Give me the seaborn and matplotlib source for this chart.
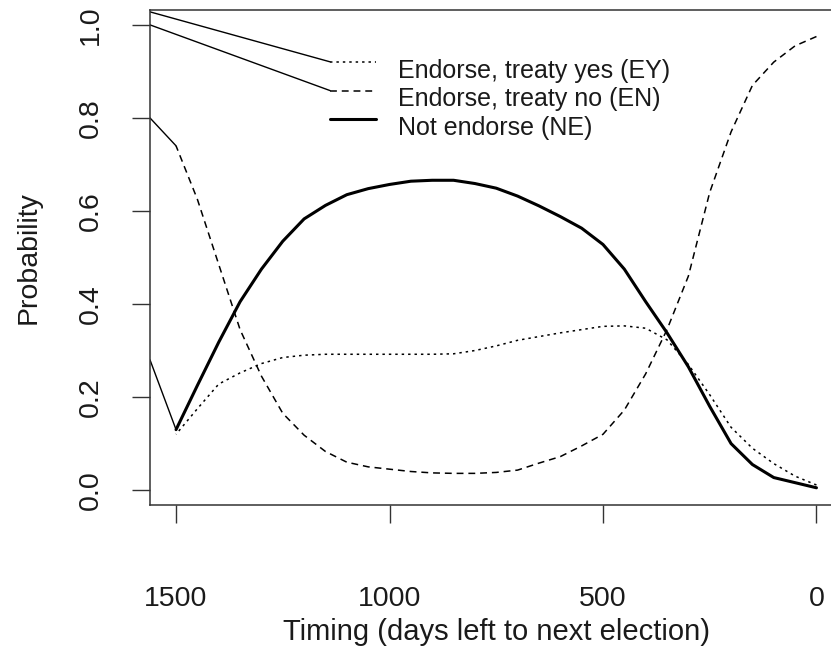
import matplotlib
matplotlib.use("Agg")
import matplotlib.pyplot as plt
import matplotlib.transforms as mtransforms
import seaborn as sns
import pandas as pd

# days left to next election, read every 50 days
days = [1500, 1450, 1400, 1350, 1300, 1250, 1200, 1150, 1100, 1050, 1000,
        950, 900, 850, 800, 750, 700, 650, 600, 550, 500,
        450, 400, 350, 300, 250, 200, 150, 100, 50, 0]

p_ey = [0.120, 0.175, 0.228, 0.252, 0.272, 0.285, 0.290, 0.292, 0.292, 0.292, 0.292,
        0.292, 0.292, 0.293, 0.300, 0.310, 0.322, 0.330, 0.338, 0.345, 0.352,
        0.353, 0.348, 0.323, 0.270, 0.205, 0.135, 0.090, 0.057, 0.030, 0.011]

p_en = [0.740, 0.625, 0.485, 0.345, 0.245, 0.165, 0.118, 0.083, 0.060, 0.050, 0.045,
        0.040, 0.037, 0.036, 0.036, 0.038, 0.043, 0.058, 0.072, 0.095, 0.120,
        0.172, 0.250, 0.345, 0.460, 0.640, 0.770, 0.870, 0.920, 0.955, 0.975]

p_ne = [0.130, 0.225, 0.318, 0.405, 0.475, 0.535, 0.583, 0.612, 0.635, 0.648, 0.657,
        0.664, 0.666, 0.666, 0.659, 0.649, 0.632, 0.611, 0.588, 0.563, 0.528,
        0.475, 0.405, 0.338, 0.265, 0.180, 0.100, 0.055, 0.027, 0.016, 0.005]

labels = ["Endorse, treaty yes (EY)", "Endorse, treaty no (EN)", "Not endorse (NE)"]

# thin stray segments coming in from the left edge of the box
lead_x = [1561, 1500]
lead_en = [0.80, 0.74]
lead_ne = [0.28, 0.13]
legend_lead_y = [1.028, 1.0]

df = pd.DataFrame({"days": days, "EY": p_ey, "EN": p_en, "NE": p_ne})

sns.set_theme(style="white")
plt.rcParams["font.family"] = ["Liberation Sans", "DejaVu Sans"]
ink = "#1a1a1a"

fig = plt.figure(figsize=(8.31, 6.55), dpi=100)
ax = fig.add_axes([150 / 831, 150 / 655, 692.5 / 831, 495 / 655])

sns.lineplot(data=df, x="days", y="EY", ax=ax, color="black", linewidth=1.1,
             linestyle=(0, (1.6, 2.6)), label=labels[0])
sns.lineplot(data=df, x="days", y="EN", ax=ax, color="black", linewidth=1.1,
             linestyle=(0, (4.5, 3.2)), label=labels[1])
sns.lineplot(data=df, x="days", y="NE", ax=ax, color="black", linewidth=2.2,
             label=labels[2])

sns.lineplot(x=lead_x, y=lead_en, ax=ax, color="black", linewidth=1.0, legend=False)
sns.lineplot(x=lead_x, y=lead_ne, ax=ax, color="black", linewidth=1.0, legend=False)

ax.set_xlim(1561, -61)
ax.set_ylim(-0.032, 1.032)

ax.set_xticks([1500, 1000, 500, 0])
ax.set_xticklabels(["1500", "1000", "500", "0"])
yt = [0.0, 0.2, 0.4, 0.6, 0.8, 1.0]
ax.set_yticks(yt)
ax.set_yticklabels([f"{v:.1f}" for v in yt], rotation=90, va="center")

ax.tick_params(axis="both", direction="out", length=13, width=1.0, color="#333333",
               labelsize=20.5, labelcolor=ink, bottom=True, left=True)
ax.tick_params(axis="x", pad=45)
ax.tick_params(axis="y", pad=20)

ax.set_xlabel("Timing (days left to next election)", fontsize=21, color=ink, labelpad=5)
ax.set_ylabel("Probability", fontsize=20.5, color=ink, labelpad=26)

for s in ax.spines.values():
    s.set_visible(True)
    s.set_color("#333333")
    s.set_linewidth(1.1)

handles, _ = ax.get_legend_handles_labels()
leg = ax.legend(handles[:3], labels, loc="upper left", bbox_to_anchor=(0.26, 0.916),
                frameon=False, fontsize=18, handlelength=1.85, handletextpad=0.85,
                labelspacing=0.19, borderpad=0, borderaxespad=0)
# R puts the legend text a little lower than the key lines
drop = mtransforms.Affine2D().translate(0, -7)
for t in leg.get_texts():
    t.set_color(ink)
    t.set_transform(t.get_transform() + drop)

# stray lines from the left edge to the first two legend keys
fig.canvas.draw()
for line, y0 in zip(leg.get_lines()[:2], legend_lead_y):
    disp = line.get_transform().transform(line.get_xydata()[0])
    x1, y1 = ax.transData.inverted().transform(disp)
    sns.lineplot(x=[lead_x[0], x1], y=[y0, y1], ax=ax, color="black",
                 linewidth=1.0, legend=False)

fig.savefig("out.png", dpi=100)
